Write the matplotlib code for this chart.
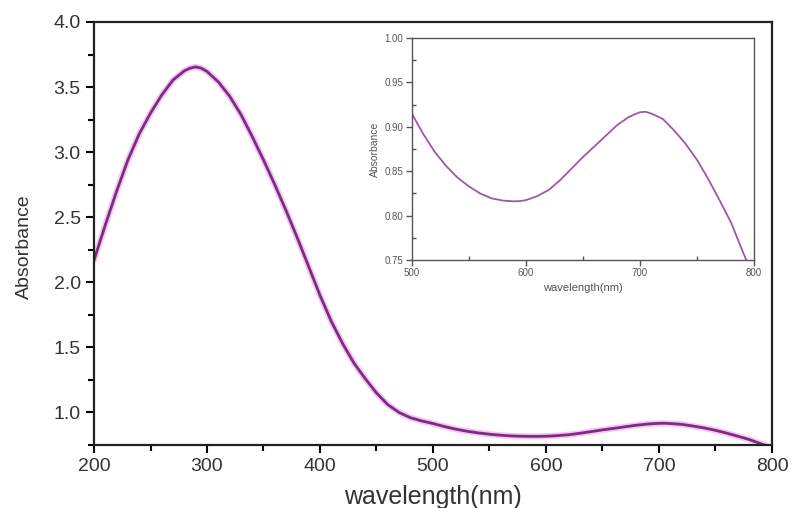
import matplotlib
matplotlib.use('Agg')
import matplotlib.pyplot as plt
from matplotlib.ticker import MultipleLocator

plt.rcParams['font.family'] = ['Liberation Sans', 'DejaVu Sans']

# UV-vis spectrum (wavelength in nm, absorbance)
wavelength = [200, 210, 220, 230, 240, 250, 260, 270, 280, 285, 290, 295,
              300, 310, 320, 330, 340, 350, 360, 370, 380, 390,
              400, 410, 420, 430, 440, 450, 460, 470, 480, 490,
              500, 510, 520, 530, 540, 550, 560, 570, 580, 585, 590, 595,
              600, 610, 620, 630, 640, 650, 660, 670, 680, 690, 695,
              700, 705, 710, 720, 730, 740, 750, 760, 770, 780, 790, 795]
absorbance = [2.17, 2.44, 2.70, 2.94, 3.14, 3.30, 3.44, 3.555, 3.625, 3.645, 3.655, 3.645,
              3.62, 3.54, 3.43, 3.29, 3.12, 2.94, 2.75, 2.55, 2.34, 2.12,
              1.90, 1.70, 1.53, 1.38, 1.26, 1.15, 1.06, 1.00, 0.96, 0.935,
              0.915, 0.892, 0.872, 0.856, 0.843, 0.833, 0.825, 0.8195, 0.817, 0.8165, 0.8162, 0.8165,
              0.8175, 0.822, 0.829, 0.840, 0.853, 0.866, 0.878, 0.890, 0.902, 0.911, 0.914,
              0.9165, 0.917, 0.915, 0.909, 0.896, 0.881, 0.863, 0.841, 0.817, 0.792, 0.760, 0.745]

main_xticks = [200, 300, 400, 500, 600, 700, 800]
main_yticks = [1.0, 1.5, 2.0, 2.5, 3.0, 3.5, 4.0]
inset_xticks = [500, 600, 700, 800]
inset_yticks = [0.75, 0.80, 0.85, 0.90, 0.95, 1.00]

fig = plt.figure(figsize=(7.92, 5.08), dpi=100)
ax = fig.add_axes([0.1187, 0.124, 0.856, 0.8327])

# purple line with a faint pink glow
ax.plot(wavelength, absorbance, color='#f0a0f0', lw=4.5, alpha=0.6, solid_capstyle='round')
ax.plot(wavelength, absorbance, color='#7b2d80', lw=2.0)

ax.set_xlim(200, 800)
ax.set_ylim(0.75, 4.0)
ax.set_xticks(main_xticks)
ax.set_yticks(main_yticks)
ax.set_yticklabels(['%.1f' % v for v in main_yticks])
ax.xaxis.set_minor_locator(MultipleLocator(50))
ax.yaxis.set_minor_locator(MultipleLocator(0.25))
ax.tick_params(which='major', direction='out', length=6, width=1.5, labelsize=14,
               labelcolor='#333333', top=False, right=False)
ax.tick_params(which='minor', direction='out', length=4, width=1.5, top=False, right=False)
for s in ax.spines.values():
    s.set_linewidth(1.6)
    s.set_color('#222222')

ax.set_xlabel('wavelength(nm)', fontsize=18, color='#333333', labelpad=7)
ax.set_ylabel('Absorbance', fontsize=14, color='#333333')
ax.yaxis.set_label_coords(-0.09, 0.468)

# inset zoomed on 500-800 nm
ins = fig.add_axes([0.520, 0.488, 0.432, 0.437])
ins.plot(wavelength, absorbance, color='#a056a8', lw=1.3)
ins.set_xlim(500, 800)
ins.set_ylim(0.75, 1.00)
ins.set_xticks(inset_xticks)
ins.set_yticks(inset_yticks)
ins.set_yticklabels(['%.2f' % v for v in inset_yticks])
ins.xaxis.set_minor_locator(MultipleLocator(50))
ins.yaxis.set_minor_locator(MultipleLocator(0.025))
ins.tick_params(which='major', direction='out', length=4, width=1.0, labelsize=7,
                labelcolor='#555555', color='#555555', pad=2)
ins.tick_params(which='minor', direction='in', length=3, width=1.0, color='#555555')
for s in ins.spines.values():
    s.set_linewidth(1.0)
    s.set_color('#555555')
ins.set_xlabel('wavelength(nm)', fontsize=8, color='#555555', labelpad=3)
ins.set_ylabel('Absorbance', fontsize=7.5, color='#555555', labelpad=3)

fig.savefig('out.png', dpi=100, facecolor='white')
